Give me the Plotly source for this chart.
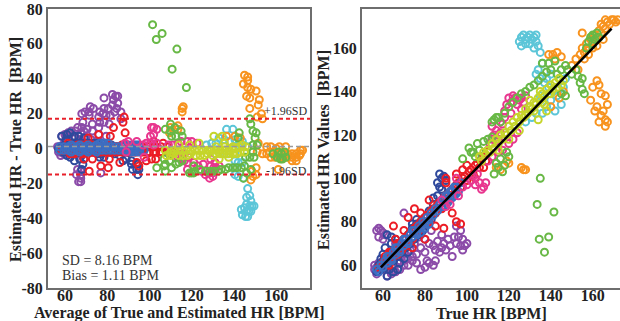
import plotly.graph_objects as go

# ---- data: (true HR, estimated HR) per subject ----
purple = [(57,59),(58,57),(56,58),(59,60),(57,56),(60,58),(58,61),(61,59),(62,61),(56,60),
          (57,76),(58,77),(59,76),(60,75),(61,74),(60,72),(58,73),(70,84),
          (63,66),(65,65),(66,68),(68,64),(70,66),(72,69),(73,67),(75,70),(76,65),(78,68),
          (80,66),(81,62),(82,70),(84,69),(85,67),(86,71),(87,66),(88,68),(89,70),(90,67),
          (91,72),(92,69),(94,73),(95,70),(96,73),(97,69),(98,72),(93,64),(85,62),(80,72),
          (77,73),(74,62),(72,60),(68,62),(66,70),(75,76),(78,74),(64,57),(62,55),(83,76),
          (88,74),(95,78),(97,76),(99,69),(100,70),(98,67),(82,61),(84,60),(80,59),(78,58),
          (76,61),(64,56),(66,57),(68,58),(70,60),(67,61),(72,63),(74,64)]
darkblue = [(57,57),(58,60),(59,58),(60,62),(61,59),(62,63),(63,61),(64,66),(65,62),(66,68),
            (67,64),(68,70),(69,66),(70,72),(71,68),(72,74),(73,70),(74,77),(75,72),(76,79),
            (77,74),(78,80),(79,76),(80,82),(81,79),(82,85),(83,81),(84,88),(85,84),(86,92),
            (87,96),(88,100),(87,102),(89,101),(90,99),(86,98),(88,95),(84,91),(62,55),(65,57),
            (68,61),(70,63),(72,66),(66,72),(64,70),(60,65),(61,68),(59,63),(74,79),(76,81),
            (63,58),(67,58),(62,74),(64,73)]
red = [(58,59),(60,61),(62,62),(63,60),(64,66),(65,64),(66,67),(67,65),(68,70),(69,68),
       (70,72),(71,69),(72,74),(73,75),(74,72),(75,77),(76,78),(77,76),(78,80),(79,79),
       (80,82),(81,83),(82,80),(83,85),(84,86),(85,84),(86,88),(87,89),(88,86),(89,91),
       (90,92),(91,90),(92,94),(93,95),(94,93),(95,97),(96,98),(97,96),(98,100),(99,101),
       (100,99),(101,103),(102,104),(103,102),(104,106),(105,107),(106,105),(107,109),
       (108,110),(109,108),(110,112),(65,78),(69,67),(72,82),(75,86),(95,80),(89,77),
       (93,84),(80,72),(85,78),(100,106),(98,104),(78,84),(104,100),(108,105),(66,72),
       (74,68),(90,98),(95,102),(82,90),(70,76),(90,100),(97,79),(61,64),(63,66),(67,70)]
blue = [(57,58),(58,57),(59,60),(60,59),(61,62),(62,61),(63,64),(64,63),(65,66),(66,65),
        (67,68),(68,67),(69,70),(70,69),(71,72),(72,71),(73,74),(74,73),(75,76),(76,75),
        (77,78),(78,77),(79,80),(80,79),(81,82),(82,81),(83,84),(84,83),(85,86),(86,85),
        (87,88),(88,87),(89,90),(90,89),(91,92),(92,91),(93,94),(94,92),(95,96),(96,94),
        (97,98),(90,92),(91,89),(92,94),(93,91),(94,96),(95,93),(89,87),(88,90),(66,68),
        (68,66),(70,72),(72,70),(74,76),(76,74),(62,64),(64,62),(78,75),(80,77),(82,79)]
magenta = [(88,90),(90,87),(92,88),(95,100),(96,92),(98,96),(100,97),(102,99),(104,97),
           (106,98),(108,96),(109,98),(105,102),(103,101),(107,95),(110,113),(111,116),
           (112,118),(113,120),(112,124),(114,122),(115,118),(116,121),(117,125),(118,131),
           (119,134),(120,137),(121,135),(122,138),(123,137),(124,134),(125,136),(126,137),
           (127,135),(128,138),(126,132),(121,130),(118,128),(116,126),(114,117),(117,113),
           (115,112),(120,116),(122,118),(124,121),(112,110),(110,108)]
cyan = [(125,163),(126,165),(127,166),(128,164),(129,165),(130,166),(131,164),(132,165),
        (133,163),(134,161),(135,158),(128,162),(130,162),(126,161),(132,160),(133,166),
        (134,150),(136,153),(133,148),(135,146),(131,128),(133,130),(136,130),(138,133),
        (140,136),(142,131),(145,134),(143,138),(141,140),(139,142),(137,144),(138,146),
        (140,148),(128,126),(130,133),(135,138),(144,141),(146,142),(147,146)]
orange = [(114,105),(116,104),(120,107),(126,105),(127,104),(128,104),(119,108),
          (139,157),(141,157),(143,158),(145,156),(142,155),(140,133),(144,137),(146,140),
          (150,152),(152,155),(154,157),(155,160),(156,158),(157,162),(158,160),(159,164),
          (160,163),(161,166),(162,165),(163,168),(164,167),(165,170),(166,169),(167,172),
          (168,171),(169,173),(170,173),(171,172),(172,173),(166,173),(164,171),(160,160),
          (158,157),(155,167),(153,150),(156,155),(162,161),(165,164),
          (159,136),(161,131),(163,143),(164,139),(164,129),(166,127),(165,131),(163,126),
          (162,133),(167,134),(166,138),(162,145),(160,142),(166,124),(167,126)]
green = [(137,66),(134.5,72),(139,73),(141.5,84.5),(133.5,88),(135,100),
         (101,114),(103,112),(105,116),(104,110),(106,113),(108,117),(110,118),(112,119),
         (113,102),(115,105),(118,106),(117,103),(114,107),(116,109),(120,110),(119,112),
         (98,109),(102,112),(114,128),(112,126),(113,127),(115,128),(116,126),(118,130),
         (120,133),(122,135),(124,137),(126,139),(128,140),(130,142),(132,143),(134,145),
         (136,147),(138,149),(136,153),(139,153),(142,154),(140,150),(143,148),(145,150),
         (147,152),(144,146),(145,139),(147,138),(152,150),(153,147),(154,144),(155,141),
         (156,139),(155,146),(150,148),(148,150),(158,163),(159,165),(160,166),(161,164),
         (157,160),(162,167),(163,165),(160,162)]
yellowgreen = [(106,110),(107,108),(108,112),(109,111),(110,113),(111,112),(112,116),
               (113,114),(114,118),(115,116),(116,120),(117,118),(118,121),(119,120),
               (120,124),(121,122),(122,126),(123,124),(124,128),(125,126),(126,129),
               (127,128),(128,132),(129,130),(130,133),(131,132),(132,135),(133,134),
               (134,137),(135,136),(136,139),(137,138),(138,141),(139,139),(140,143),
               (141,141),(142,144),(143,142),(144,146),(145,143),(146,145),(128,129),
               (132,131),(136,135),(140,139),(125,122),(120,118),(115,113),(130,136),
               (135,140),(134,127),(138,131),(137,134)]

identity_span = [59, 169]   # extent of the y = x reference line (BPM)

BIAS = 1.11
SD = 8.16

left_x_ticks = [60, 80, 100, 120, 140, 160]
left_y_ticks = [-80, -60, -40, -20, 0, 20, 40, 60, 80]
left_y_ticktext = ["-80", "-60", "-40", "-20", "0", "20", "40", "60", "80"]
right_x_ticks = [60, 80, 100, 120, 140, 160]
right_y_ticks = [60, 80, 100, 120, 140, 160]

subjects = [
    (purple, "#8B4BA8"),
    (darkblue, "#2F4A9C"),
    (red, "#EC1D25"),
    (blue, "#3C6EC2"),
    (magenta, "#E8368E"),
    (cyan, "#5CC6D8"),
    (orange, "#F7931E"),
    (green, "#67B845"),
    (yellowgreen, "#C6D52A"),
]

W, H = 620, 321
ML, MR, MT, MB = 0, 0, 9, 33
PH = H - MT - MB

fig = go.Figure()
for pairs, color in subjects:
    t = [p[0] for p in pairs]
    e = [p[1] for p in pairs]
    avg = [(a + b) / 2 for a, b in zip(t, e)]
    diff = [a - b for a, b in zip(t, e)]
    mk = dict(symbol="circle-open", size=7, color=color, line=dict(width=2, color=color))
    fig.add_trace(go.Scatter(x=avg, y=diff, mode="markers", marker=mk,
                             xaxis="x", yaxis="y", showlegend=False, hoverinfo="skip"))
    fig.add_trace(go.Scatter(x=t, y=e, mode="markers", marker=mk,
                             xaxis="x2", yaxis="y2", showlegend=False, hoverinfo="skip"))

fig.add_trace(go.Scatter(x=identity_span, y=identity_span, mode="lines",
                         line=dict(color="black", width=2.5),
                         xaxis="x2", yaxis="y2", showlegend=False, hoverinfo="skip"))

upper = BIAS + 1.96 * SD
lower = BIAS - 1.96 * SD
fig.add_shape(type="line", xref="x domain", yref="y", x0=0, x1=1, y0=BIAS, y1=BIAS,
              line=dict(color="#9a9a9a", width=1.5, dash="5px,3px"))
for v in (upper, lower):
    fig.add_shape(type="line", xref="x domain", yref="y", x0=0, x1=1, y0=v, y1=v,
                  line=dict(color="#E8202A", width=2, dash="4px,3px"))

serif = "Liberation Serif, Times New Roman, serif"
tickfont = dict(family=serif, size=16, color="#222", weight="bold")
axcommon = dict(showline=True, linecolor="#6e6e6e", linewidth=2, showgrid=False,
                zeroline=False, ticks="", ticklen=0, tickfont=tickfont, automargin=False)

fig.update_layout(
    width=W, height=H, margin=dict(l=ML, r=MR, t=MT, b=MB),
    paper_bgcolor="white", plot_bgcolor="white",
    xaxis=dict(domain=[48 / W, 310 / W], range=[52, 176], tickvals=left_x_ticks,
               mirror=True, anchor="y", ticklabelstandoff=-8, **axcommon),
    yaxis=dict(domain=[0, 1], range=[-80, 80], tickvals=left_y_ticks,
               ticktext=left_y_ticktext, mirror=True, anchor="x", **axcommon),
    xaxis2=dict(domain=[362 / W, 1.0], range=[50, 173], tickvals=right_x_ticks,
                mirror=True, anchor="y2", ticklabelstandoff=-8, **axcommon),
    yaxis2=dict(domain=[0, 1], range=[49.5, 178], tickvals=right_y_ticks,
                mirror=False, anchor="x2", **axcommon),
)

def px(x):
    return x / W

def py(y):
    return (H - MB - y) / PH

titlefont = dict(family=serif, size=16, color="#222", weight="bold")
ann = [
    dict(text="Average of True and Estimated HR [BPM]", x=px(179), y=py(313)),
    dict(text="True HR [BPM]", x=px(491), y=py(313)),
    dict(text="Estimated HR - True HR  [BPM]", x=px(15), y=py(150), textangle=-90),
    dict(text="Estimated HR Values  [BPM]", x=px(323), y=py(150), textangle=-90),
]
for a in ann:
    fig.add_annotation(xref="paper", yref="paper", showarrow=False, font=titlefont,
                       xanchor="center", yanchor="middle", **a)

smallfont = dict(family=serif, size=14, color="#333")
fig.add_annotation(text="SD = 8.16 BPM", xref="paper", yref="paper", x=px(60), y=py(260),
                   xanchor="left", yanchor="middle", showarrow=False, font=smallfont)
fig.add_annotation(text="Bias = 1.11 BPM", xref="paper", yref="paper", x=px(60), y=py(275),
                   xanchor="left", yanchor="middle", showarrow=False, font=smallfont)
sdfont = dict(family=serif, size=12, color="#333")
fig.add_annotation(text="+1.96SD", xref="paper", yref="paper", x=px(309), y=py(111),
                   xanchor="right", yanchor="middle", showarrow=False, font=sdfont)
fig.add_annotation(text="-1.96SD", xref="paper", yref="paper", x=px(309), y=py(171),
                   xanchor="right", yanchor="middle", showarrow=False, font=sdfont)

fig.write_html("out.html", config={"displayModeBar": False},
               post_script="document.body.style.margin='0';document.body.style.overflow='hidden';")
